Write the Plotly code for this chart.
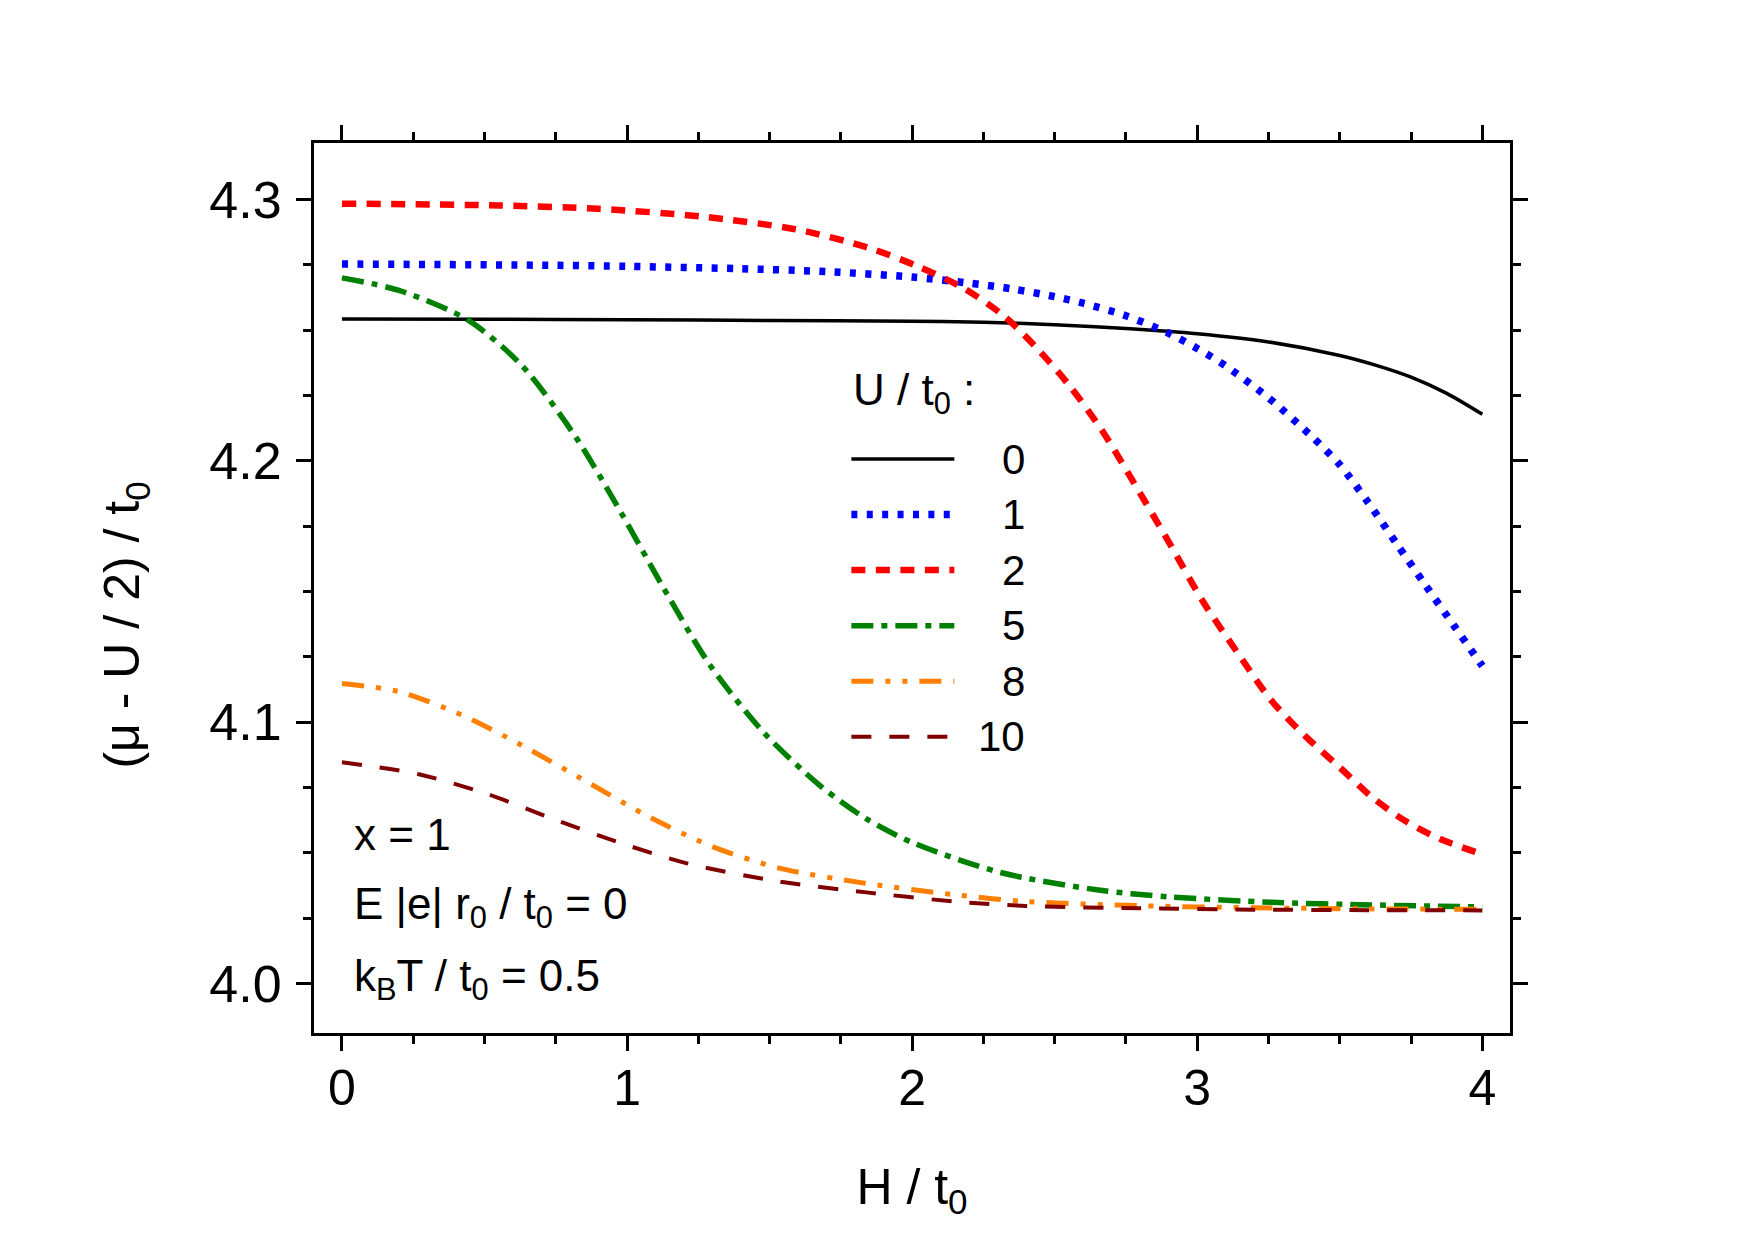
import plotly.graph_objects as go

# ---------------- data ----------------
H_U0 = [0, 0.5, 1.0, 1.5, 2.0, 2.25, 2.5, 2.75, 3.0, 3.25, 3.5, 3.625, 3.75, 3.875, 4.0]
MU_U0 = [4.2543, 4.2542, 4.2540, 4.2537, 4.2534, 4.2530, 4.2521, 4.2506, 4.2486,
         4.2455, 4.2403, 4.2366, 4.2320, 4.2258, 4.2178]

H_U1 = [0, 0.75, 1.0, 1.4, 1.7, 2.0, 2.2, 2.35, 2.5, 2.6, 2.75, 2.9, 3.0, 3.1,
        3.25, 3.4, 3.5, 3.6, 3.7, 3.8, 3.9, 4.0]
MU_U1 = [4.2753, 4.2748, 4.2744, 4.2735, 4.2724, 4.2703, 4.2680, 4.2658, 4.2628,
         4.2603, 4.2555, 4.2488, 4.2430, 4.2363, 4.2241, 4.2095, 4.1985, 4.1840,
         4.1682, 4.1525, 4.1370, 4.1215]

H_U2 = [0, 0.55, 0.9, 1.26, 1.6, 1.85, 2.02, 2.18, 2.32, 2.43, 2.55, 2.665, 2.78,
        2.9, 3.02, 3.14, 3.26, 3.38, 3.5, 3.61, 3.73, 3.85, 4.0]
MU_U2 = [4.2984, 4.2977, 4.2964, 4.2935, 4.2884, 4.2814, 4.2744, 4.2661, 4.2556,
         4.2440, 4.2290, 4.2118, 4.1912, 4.1690, 4.1462, 4.1268, 4.1083, 4.0946,
         4.0827, 4.0716, 4.0622, 4.0554, 4.0495]

H_U5 = [0, 0.2, 0.44, 0.63, 0.82, 0.98, 1.13, 1.29, 1.48, 1.68, 1.84, 2.0, 2.31,
        2.66, 2.9, 3.26, 3.61, 4.0]
MU_U5 = [4.2700, 4.2652, 4.2540, 4.2366, 4.2091, 4.1800, 4.1510, 4.1220, 4.0960,
         4.0755, 4.0630, 4.0540, 4.0425, 4.0357, 4.0332, 4.0311, 4.0301, 4.0293]

H_U8 = [0, 0.2, 0.43, 0.63, 0.84, 1.06, 1.29, 1.53, 1.84, 2.15, 2.4, 2.8, 3.2, 3.6, 4.0]
MU_U8 = [4.1148, 4.1117, 4.1023, 4.0912, 4.0784, 4.0648, 4.0528, 4.0443, 4.0383,
         4.0340, 4.0314, 4.0298, 4.0290, 4.0286, 4.0284]

H_U10 = [0, 0.27, 0.51, 0.74, 0.98, 1.21, 1.53, 1.84, 2.15, 2.4, 2.8, 3.2, 3.6, 4.0]
MU_U10 = [4.0847, 4.0801, 4.0725, 4.0630, 4.0537, 4.0460, 4.0391, 4.0349, 4.0314,
          4.0297, 4.0288, 4.0283, 4.0281, 4.0280]

U_LABELS = ["0", "1", "2", "5", "8", "10"]
X_TICKS = [0, 1, 2, 3, 4]
Y_TICKS = [4.0, 4.1, 4.2, 4.3]

# ---------------- styles ----------------
FONT = "Liberation Sans, Arial, sans-serif"
styles = [
    dict(color="#000000", width=3.5, dash="solid"),
    dict(color="#0000FF", width=7.5, dash="6px,9.4px"),
    dict(color="#FF0000", width=6.5, dash="14px,10.5px"),
    dict(color="#008000", width=5.5, dash="22px,8px,6px,8px"),
    dict(color="#FF8000", width=5, dash="22px,12px,5px,12px,5px,12px"),
    dict(color="#800000", width=4, dash="20px,18px"),
]
series = [(H_U0, MU_U0), (H_U1, MU_U1), (H_U2, MU_U2),
          (H_U5, MU_U5), (H_U8, MU_U8), (H_U10, MU_U10)]

fig = go.Figure()
for (xs, ys), st, lab in zip(series, styles, U_LABELS):
    fig.add_trace(go.Scatter(
        x=xs, y=ys, mode="lines", name=lab, showlegend=False,
        line=dict(color=st["color"], width=st["width"], dash=st["dash"],
                  shape="spline", smoothing=0.8),
    ))

# ---------------- manual legend (key lines + labels) ----------------
leg_x0, leg_x1 = 0.4493, 0.5354
leg_y0, leg_dy = 0.6449, 0.0624
leg_lab_x = 0.5964
shapes = []
annotations = []
for i, (st, lab) in enumerate(zip(styles, U_LABELS)):
    yy = leg_y0 - i * leg_dy
    shapes.append(dict(type="line", xref="paper", yref="paper",
                       x0=leg_x0, x1=leg_x1, y0=yy, y1=yy,
                       line=dict(color=st["color"], width=st["width"], dash=st["dash"])))
    annotations.append(dict(xref="paper", yref="paper", x=leg_lab_x, y=yy,
                            xanchor="right", yanchor="middle", showarrow=False,
                            text=lab, font=dict(family=FONT, size=42, color="black")))
annotations.append(dict(xref="paper", yref="paper", x=0.449, y=0.719,
                        xanchor="left", yanchor="middle", showarrow=False,
                        text="U / t<sub>0</sub> :",
                        font=dict(family=FONT, size=44, color="black")))

# ---------------- parameter text ----------------
param_text = ["x = 1",
              "E |e| r<sub>0</sub> / t<sub>0</sub> = 0",
              "k<sub>B</sub>T / t<sub>0</sub> = 0.5"]
param_y = [0.2228, 0.1420, 0.0610]
for t, yy in zip(param_text, param_y):
    annotations.append(dict(xref="paper", yref="paper", x=0.0319, y=yy,
                            xanchor="left", yanchor="middle", showarrow=False,
                            text=t, font=dict(family=FONT, size=44, color="black")))

# y-axis title (placed as rotated annotation to match offset position)
annotations.append(dict(xref="paper", yref="paper", x=-0.1573, y=0.4588,
                        xanchor="center", yanchor="middle", showarrow=False,
                        textangle=-90, text="(μ - U / 2) / t<sub>0</sub>",
                        font=dict(family=FONT, size=50, color="black")))

axis_common = dict(
    showline=True, linecolor="black", linewidth=3, mirror="ticks",
    ticks="outside", ticklen=15, tickwidth=2.5, tickcolor="black",
    showgrid=False, zeroline=False,
)

fig.update_layout(
    width=1755, height=1242,
    margin=dict(l=314, r=245, t=143, b=209),
    paper_bgcolor="white", plot_bgcolor="white",
    showlegend=False,
    shapes=shapes, annotations=annotations,
    xaxis=dict(range=[-0.098, 4.097], tickvals=X_TICKS, ticktext=[str(v) for v in X_TICKS],
               minor=dict(dtick=0.25, tick0=0, ticks="outside", ticklen=8,
                          tickwidth=2.5, tickcolor="black"),
               ticklabelstandoff=-6,
               tickfont=dict(family=FONT, size=50, color="black"),
               title=dict(text="H / t<sub>0</sub>", standoff=54,
                          font=dict(family=FONT, size=50, color="black")),
               **axis_common),
    yaxis=dict(range=[3.9811, 4.3216], tickvals=Y_TICKS, tickformat=".1f",
               minor=dict(dtick=0.025, tick0=4.0, ticks="outside", ticklen=8,
                          tickwidth=2.5, tickcolor="black"),
               ticklabelstandoff=4,
               tickfont=dict(family=FONT, size=52, color="black"),
               **axis_common),
)

fig.write_html("out.html")
